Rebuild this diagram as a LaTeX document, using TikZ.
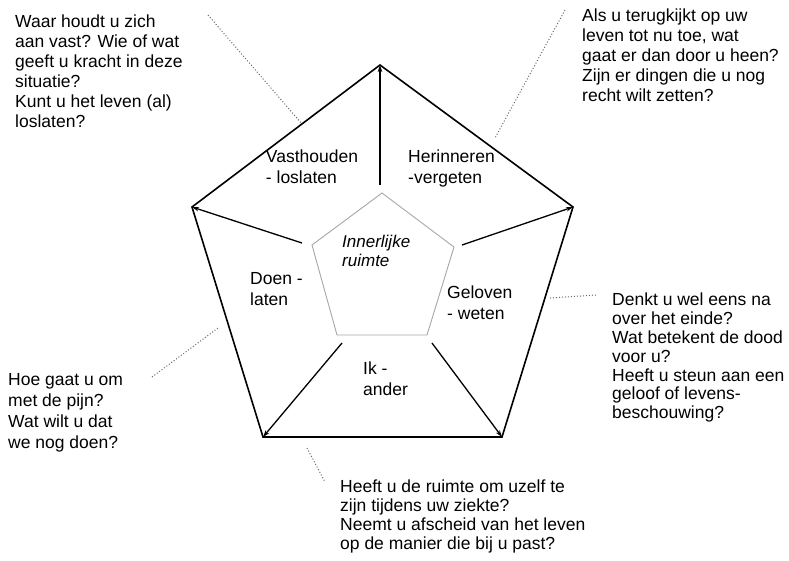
\documentclass[tikz,border=0pt]{standalone}
\usepackage{fontspec}
\setmainfont{Liberation Sans}
\usetikzlibrary{arrows.meta}
\begin{document}
\begin{tikzpicture}[x=1pt,y=-1pt,
  outer/.style={line width=1.6pt,black,line join=miter},
  innerpent/.style={line width=0.9pt,gray!70},
  spoke/.style={line width=1.3pt,black,-{Stealth[length=7pt,width=4.5pt]}},
  leader/.style={line width=1pt,black!60,dotted},
  qtext/.style={anchor=north west,inner sep=0pt,align=left,font=\fontsize{17.5}{20}\selectfont},
  lab/.style={inner sep=0pt,align=left,font=\fontsize{17.5}{21}\selectfont},
]
\useasboundingbox (0,0) rectangle (789,560);
% outer pentagon
\coordinate (OT) at (380,65);
\coordinate (OR) at (573,207);
\coordinate (OBR) at (502,437);
\coordinate (OBL) at (263,437);
\coordinate (OL) at (192,207);
\draw[outer] (OT) -- (OR) -- (OBR) -- (OBL) -- (OL) -- cycle;
% inner pentagon
\coordinate (IT) at (382,193);
\coordinate (IR) at (454,247);
\coordinate (IBR) at (427,335);
\coordinate (IBL) at (337,335);
\coordinate (IL) at (312,245);
\draw[innerpent] (IT) -- (IR) -- (IBR) -- (IBL) -- (IL) -- cycle;
% spokes
\coordinate (ST) at (380,185);
\coordinate (SR) at (462,245);
\coordinate (SBR) at (432,343);
\coordinate (SBL) at (342,343);
\coordinate (SL) at (302,243);
\draw[spoke] (ST) -- (OT);
\draw[spoke] (SR) -- (OR);
\draw[spoke] (SBR) -- (OBR);
\draw[spoke] (SBL) -- (OBL);
\draw[spoke] (SL) -- (OL);
% labels
\node[lab,anchor=base] (vast) at (312,183) {Vasthouden\\- loslaten};
\node[lab,anchor=base west] (her) at (408,183) {Herinneren\\-vergeten};
\node[lab,anchor=base west,font=\fontsize{17}{19}\selectfont\itshape] (inn) at (342,266) {Innerlijke\\ruimte};
\node[lab,anchor=base west] (doen) at (250,305) {Doen -\\laten};
\node[lab,anchor=base west] (gel) at (447,319) {Geloven\\- weten};
\node[lab,anchor=base west] (ik) at (363,395) {Ik -\\ander};
% question texts
\node[qtext] (q1) at (15,15) {Waar houdt u zich\\aan vast? Wie of wat\\geeft u kracht in deze\\situatie?\\Kunt u het leven (al)\\loslaten?};
\node[qtext] (q2) at (582,9) {Als u terugkijkt op uw\\leven tot nu toe, wat\\gaat er dan door u heen?\\Zijn er dingen die u nog\\recht wilt zetten?};
\node[qtext,font=\fontsize{17.5}{18.8}\selectfont] (q3) at (612,293) {Denkt u wel eens na\\over het einde?\\Wat betekent de dood\\voor u?\\Heeft u steun aan een\\geloof of levens-\\beschouwing?};
\node[qtext,font=\fontsize{17.5}{21}\selectfont] (q4) at (8,373) {Hoe gaat u om\\met de pijn?\\Wat wilt u dat\\we nog doen?};
\node[qtext,font=\fontsize{17.5}{19}\selectfont] (q5) at (340,480) {Heeft u de ruimte om uzelf te\\zijn tijdens uw ziekte?\\Neemt u afscheid van het leven\\op de manier die bij u past?};
% leaders
\coordinate (L1a) at (208,15);
\coordinate (L1b) at (302,124);
\coordinate (L2a) at (565,10);
\coordinate (L2b) at (495,138);
\coordinate (L3a) at (550,298);
\coordinate (L3b) at (596,295);
\coordinate (L4a) at (152,377);
\coordinate (L4b) at (218,328);
\coordinate (L5a) at (307,448);
\coordinate (L5b) at (325,482);
\draw[leader] (L1a) -- (L1b);
\draw[leader] (L2a) -- (L2b);
\draw[leader] (L3a) -- (L3b);
\draw[leader] (L4a) -- (L4b);
\draw[leader] (L5a) -- (L5b);
\end{tikzpicture}
\end{document}
